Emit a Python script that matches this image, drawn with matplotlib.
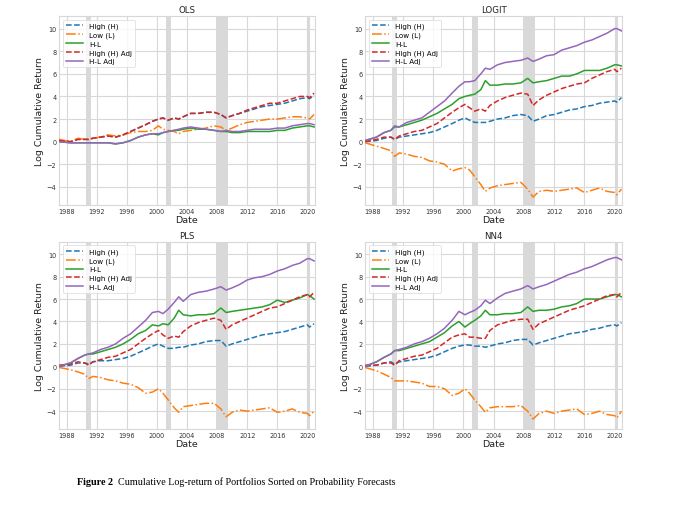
import matplotlib
matplotlib.use("Agg")
import matplotlib.pyplot as plt

# sampling dates (decimal years)
t = [1987.0, 1988.5, 1989.5, 1990.4, 1990.9, 1991.5, 1992.5, 1993.5, 1994.5, 1995.5,
     1996.5, 1997.5, 1998.5, 1999.4, 2000.2, 2000.8, 2001.5, 2002.3, 2002.9, 2003.5,
     2004.5, 2005.5, 2006.5, 2007.6, 2008.5, 2009.2, 2010.0, 2011.0, 2012.0, 2013.0,
     2014.0, 2015.0, 2016.0, 2017.0, 2018.0, 2019.0, 2020.0, 2020.3, 2020.9]

# OLS
ols_h = [0.1, 0.0, 0.2, 0.2, 0.2, 0.3, 0.4, 0.5, 0.4, 0.6, 0.9, 1.2, 1.5, 1.8, 2.0, 2.1, 1.9, 2.1, 2.0, 2.2,
         2.5, 2.5, 2.6, 2.6, 2.4, 2.1, 2.3, 2.5, 2.7, 2.9, 3.1, 3.2, 3.3, 3.4, 3.6, 3.8, 3.9, 3.8, 4.1]
ols_l = [0.2, 0.0, 0.3, 0.2, 0.2, 0.3, 0.4, 0.6, 0.5, 0.6, 0.8, 0.9, 0.9, 1.0, 1.4, 1.1, 1.0, 0.9, 0.7, 0.9,
         1.0, 1.1, 1.2, 1.4, 1.3, 1.0, 1.2, 1.5, 1.7, 1.8, 1.9, 2.0, 2.0, 2.1, 2.2, 2.2, 2.1, 2.0, 2.4]
ols_hl = [0.0, -0.1, -0.1, -0.1, -0.1, -0.1, -0.1, -0.1, -0.2, -0.1, 0.1, 0.4, 0.6, 0.7, 0.6, 0.8, 0.9, 1.0, 1.0, 1.1,
          1.2, 1.1, 1.1, 1.0, 0.9, 0.9, 0.8, 0.8, 0.9, 0.9, 0.9, 0.9, 1.0, 1.0, 1.2, 1.3, 1.4, 1.4, 1.3]
ols_ha = [0.1, 0.0, 0.2, 0.2, 0.2, 0.3, 0.4, 0.5, 0.4, 0.6, 0.9, 1.2, 1.5, 1.8, 2.0, 2.1, 1.9, 2.1, 2.0, 2.2,
          2.5, 2.5, 2.6, 2.6, 2.4, 2.1, 2.3, 2.5, 2.8, 3.0, 3.2, 3.4, 3.4, 3.6, 3.8, 4.0, 4.0, 3.9, 4.3]
ols_hla = [0.0, -0.1, -0.1, -0.1, -0.1, -0.1, -0.1, -0.1, -0.2, -0.1, 0.1, 0.4, 0.6, 0.7, 0.7, 0.8, 0.9, 1.0, 1.1, 1.2,
           1.3, 1.2, 1.1, 1.0, 0.9, 1.0, 0.9, 0.9, 1.0, 1.1, 1.1, 1.1, 1.2, 1.2, 1.4, 1.5, 1.6, 1.6, 1.5]

# LOGIT
logit_h = [0.0, 0.1, 0.3, 0.4, 0.2, 0.4, 0.5, 0.6, 0.7, 0.8, 1.0, 1.3, 1.6, 1.9, 2.1, 1.9, 1.7, 1.7, 1.7, 1.8,
           2.0, 2.1, 2.3, 2.4, 2.3, 1.8, 2.0, 2.3, 2.4, 2.6, 2.8, 2.9, 3.1, 3.2, 3.4, 3.5, 3.6, 3.5, 3.9]
logit_l = [-0.1, -0.4, -0.6, -0.8, -1.3, -1.0, -1.1, -1.3, -1.4, -1.7, -1.8, -2.0, -2.6, -2.4, -2.3, -2.5, -3.1, -3.8, -4.4, -4.1,
           -3.9, -3.8, -3.7, -3.6, -4.2, -4.9, -4.4, -4.3, -4.4, -4.3, -4.2, -4.1, -4.5, -4.3, -4.1, -4.4, -4.5, -4.7, -4.2]
logit_hl = [0.1, 0.4, 0.8, 1.0, 1.3, 1.3, 1.5, 1.7, 1.9, 2.2, 2.5, 2.9, 3.3, 3.8, 4.0, 4.1, 4.2, 4.6, 5.4, 5.0,
            5.0, 5.1, 5.1, 5.2, 5.6, 5.2, 5.3, 5.4, 5.6, 5.8, 5.8, 6.0, 6.3, 6.3, 6.3, 6.5, 6.8, 6.8, 6.7]
logit_ha = [0.0, 0.2, 0.4, 0.4, 0.2, 0.5, 0.7, 0.9, 1.0, 1.3, 1.6, 2.1, 2.6, 3.0, 3.3, 3.0, 2.7, 2.9, 2.7, 3.2,
            3.6, 3.9, 4.1, 4.3, 4.2, 3.2, 3.7, 4.1, 4.4, 4.7, 4.9, 5.1, 5.2, 5.6, 5.9, 6.2, 6.4, 6.2, 6.5]
logit_hla = [0.1, 0.4, 0.8, 1.0, 1.4, 1.3, 1.7, 1.9, 2.1, 2.6, 3.1, 3.6, 4.3, 4.9, 5.3, 5.3, 5.4, 6.0, 6.5, 6.4,
             6.8, 7.0, 7.1, 7.2, 7.4, 7.1, 7.3, 7.6, 7.7, 8.1, 8.3, 8.5, 8.8, 9.0, 9.3, 9.6, 10.0, 10.0, 9.8]

# PLS
pls_h = [0.0, 0.1, 0.3, 0.3, 0.2, 0.4, 0.5, 0.5, 0.6, 0.7, 0.9, 1.2, 1.5, 1.8, 2.0, 1.8, 1.6, 1.6, 1.7, 1.7,
         1.9, 2.0, 2.2, 2.3, 2.3, 1.8, 2.0, 2.2, 2.4, 2.6, 2.8, 2.9, 3.0, 3.1, 3.3, 3.5, 3.7, 3.5, 3.8]
pls_l = [-0.1, -0.3, -0.5, -0.7, -1.1, -0.9, -1.0, -1.2, -1.3, -1.5, -1.6, -1.9, -2.4, -2.3, -2.0, -2.4, -3.0, -3.7, -4.1, -3.6,
         -3.5, -3.4, -3.3, -3.3, -3.8, -4.5, -4.1, -3.9, -4.0, -3.9, -3.8, -3.7, -4.1, -4.0, -3.8, -4.1, -4.2, -4.4, -4.0]
pls_hl = [0.0, 0.3, 0.7, 1.0, 1.1, 1.1, 1.3, 1.5, 1.7, 2.0, 2.4, 2.9, 3.2, 3.7, 3.6, 3.8, 3.7, 4.3, 5.0, 4.6,
          4.5, 4.6, 4.6, 4.7, 5.2, 4.8, 4.9, 5.0, 5.1, 5.2, 5.3, 5.5, 5.9, 5.7, 5.9, 6.1, 6.4, 6.3, 6.0]
pls_ha = [0.1, 0.2, 0.4, 0.3, 0.1, 0.4, 0.6, 0.8, 0.9, 1.2, 1.5, 2.0, 2.5, 2.9, 3.2, 2.8, 2.5, 2.7, 2.6, 3.1,
          3.6, 3.9, 4.1, 4.3, 4.1, 3.3, 3.7, 4.0, 4.3, 4.6, 4.9, 5.2, 5.3, 5.6, 5.9, 6.2, 6.4, 6.2, 6.6]
pls_hla = [0.0, 0.3, 0.7, 1.0, 1.1, 1.2, 1.5, 1.7, 2.0, 2.5, 2.9, 3.5, 4.1, 4.8, 4.9, 4.7, 5.1, 5.7, 6.2, 5.8,
           6.4, 6.6, 6.7, 6.9, 7.1, 6.8, 7.0, 7.3, 7.7, 7.9, 8.0, 8.2, 8.5, 8.7, 9.0, 9.2, 9.6, 9.6, 9.4]

# NN4
nn4_h = [0.0, 0.1, 0.3, 0.4, 0.2, 0.4, 0.5, 0.6, 0.7, 0.8, 1.0, 1.3, 1.6, 1.8, 1.9, 1.9, 1.8, 1.8, 1.7, 1.8,
         2.0, 2.1, 2.3, 2.4, 2.4, 1.9, 2.1, 2.3, 2.5, 2.7, 2.9, 3.0, 3.1, 3.3, 3.4, 3.6, 3.7, 3.6, 3.9]
nn4_l = [-0.1, -0.4, -0.7, -1.0, -1.3, -1.3, -1.3, -1.4, -1.5, -1.8, -1.8, -2.0, -2.6, -2.4, -2.0, -2.4, -3.0, -3.6, -4.1, -3.7,
         -3.6, -3.6, -3.6, -3.5, -4.0, -4.7, -4.2, -4.0, -4.2, -4.0, -3.9, -3.8, -4.3, -4.2, -4.0, -4.3, -4.4, -4.6, -4.0]
nn4_hl = [0.0, 0.4, 0.8, 1.1, 1.4, 1.4, 1.6, 1.8, 2.0, 2.2, 2.6, 3.0, 3.6, 4.0, 3.5, 3.8, 4.1, 4.5, 5.0, 4.6,
          4.6, 4.7, 4.7, 4.8, 5.3, 4.9, 5.0, 5.0, 5.1, 5.3, 5.4, 5.6, 6.0, 6.0, 6.0, 6.2, 6.4, 6.4, 6.2]
nn4_ha = [0.1, 0.1, 0.3, 0.3, 0.1, 0.5, 0.7, 0.9, 1.0, 1.3, 1.6, 2.1, 2.6, 2.8, 2.9, 2.6, 2.6, 2.5, 2.5, 3.2,
          3.7, 3.9, 4.1, 4.2, 4.2, 3.3, 3.8, 4.1, 4.4, 4.7, 5.0, 5.2, 5.4, 5.7, 6.0, 6.3, 6.4, 6.2, 6.6]
nn4_hla = [0.0, 0.4, 0.8, 1.1, 1.4, 1.5, 1.7, 2.0, 2.2, 2.5, 2.9, 3.4, 4.1, 4.9, 4.6, 4.8, 5.0, 5.4, 5.9, 5.6,
           6.1, 6.5, 6.7, 6.9, 7.2, 6.9, 7.1, 7.3, 7.6, 7.9, 8.2, 8.4, 8.7, 8.9, 9.2, 9.5, 9.7, 9.7, 9.5]

recess_start = [1990.58, 2001.17, 2007.92, 2020.08]
recess_end = [1991.17, 2001.87, 2009.45, 2020.40]

labels = ['High (H)', 'Low (L)', 'H-L', 'High (H) Adj', 'H-L Adj']
styles = [('#1f77b4', '--'), ('#ff7f0e', '-.'), ('#2ca02c', '-'), ('#d62728', '--'), ('#9467bd', '-')]
xticks = [1988, 1992, 1996, 2000, 2004, 2008, 2012, 2016, 2020]

panels = [
    ('OLS', [ols_h, ols_l, ols_hl, ols_ha, ols_hla], [0.087, 0.593, 0.376, 0.373]),
    ('LOGIT', [logit_h, logit_l, logit_hl, logit_ha, logit_hla], [0.537, 0.593, 0.378, 0.373]),
    ('PLS', [pls_h, pls_l, pls_hl, pls_ha, pls_hla], [0.087, 0.150, 0.376, 0.370]),
    ('NN4', [nn4_h, nn4_l, nn4_hl, nn4_ha, nn4_hla], [0.537, 0.150, 0.378, 0.370]),
]

fig = plt.figure(figsize=(6.8, 5.06), dpi=100)
for name, series, pos in panels:
    ax = fig.add_axes(pos)
    ax.set_facecolor('white')
    ax.grid(True, color='#d8d8d8', linewidth=0.8)
    ax.set_axisbelow(True)
    for s in ax.spines.values():
        s.set_color('#d8d8d8')
        s.set_linewidth(0.8)
    for a, b in zip(recess_start, recess_end):
        ax.axvspan(a, b, color='#d9d9d9', linewidth=0, zorder=1)
    for y, lab, (c, ls) in zip(series, labels, styles):
        ax.plot(t, y, color=c, linestyle=ls, linewidth=1.1, label=lab, zorder=3)
    ax.set_xlim(1987.0, 2021.0)
    ax.set_ylim(-5.6, 11.1)
    ax.set_xticks(xticks)
    ax.set_yticks([-4, -2, 0, 2, 4, 6, 8, 10])
    ax.tick_params(labelsize=4.7, colors='#333333', length=0, pad=2)
    ax.set_title(name, fontsize=6.2, color='#222222', pad=3)
    ax.set_xlabel('Date', fontsize=6.8, color='#222222', labelpad=1)
    ax.set_ylabel('Log Cumulative Return', fontsize=6.8, color='#222222', labelpad=2)
    leg = ax.legend(loc='upper left', fontsize=5.1, frameon=True, handlelength=2.5,
                    borderpad=0.4, labelspacing=0.35)
    leg.get_frame().set_edgecolor('#d8d8d8')
    leg.get_frame().set_linewidth(0.6)

fig.text(0.113, 0.047, 'Figure 2', fontsize=7.3, fontweight='bold',
         family='Liberation Serif', va='center')
fig.text(0.174, 0.047, 'Cumulative Log-return of Portfolios Sorted on Probability Forecasts',
         fontsize=7.3, family='Liberation Serif', va='center')

fig.savefig('out.png', dpi=100)
